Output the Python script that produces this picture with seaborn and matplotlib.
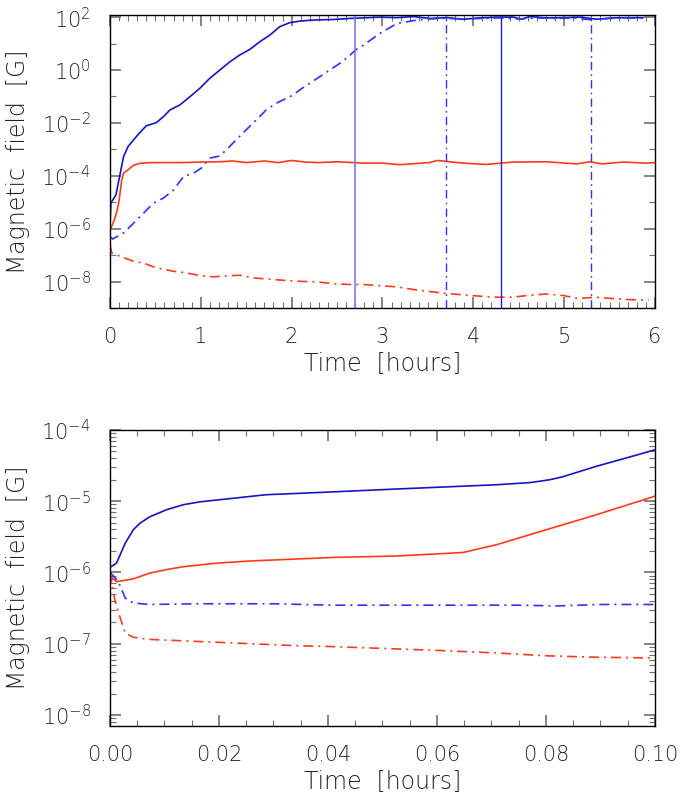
import numpy as np
import matplotlib
matplotlib.use('Agg')
import matplotlib.pyplot as plt
import matplotlib.ticker as mticker
import seaborn as sns

# ---- top panel: 0-6 hours (values stored as log10 of field in G) ----
top_t_blue = [0.0, 0.01, 0.066, 0.09, 0.15, 0.20, 0.26, 0.33, 0.40, 0.51, 0.59, 0.66, 0.77,
              0.88, 0.99, 1.10, 1.21, 1.32, 1.43, 1.54, 1.65, 1.76, 1.87, 1.98, 2.09, 2.24,
              2.46, 2.64, 2.79, 2.97, 3.16, 3.34, 3.52, 3.71, 3.89, 4.07, 4.26, 4.44, 4.53,
              4.62, 4.81, 4.99, 5.17, 5.36, 5.54, 5.72, 5.87]
top_blue = [-5.9, -5.03, -4.72, -4.3, -3.27, -2.89, -2.64, -2.36, -2.11, -1.99, -1.76, -1.51,
            -1.32, -1.01, -0.69, -0.31, 0.0, 0.31, 0.57, 0.78, 1.07, 1.32, 1.64, 1.79, 1.85,
            1.89, 1.91, 1.95, 1.97, 2.0, 1.98, 2.02, 1.95, 1.98, 1.92, 1.97, 2.0, 2.0, 1.92,
            2.02, 1.97, 1.98, 2.0, 1.92, 1.97, 1.98, 1.98]

top_t_blue_dd = [0.0, 0.03, 0.15, 0.26, 0.37, 0.48, 0.59, 0.70, 0.81, 0.92, 1.01, 1.10, 1.21,
                 1.28, 1.39, 1.50, 1.61, 1.72, 1.83, 1.94, 2.02, 2.09, 2.20, 2.31, 2.42, 2.53,
                 2.64, 2.70, 2.79, 2.97, 3.16, 3.38, 3.50, 3.68, 3.90, 4.10, 4.30, 4.50, 4.70,
                 4.90, 5.10, 5.30, 5.50, 5.70, 5.90]
top_blue_dd = [-6.3, -6.39, -6.16, -5.79, -5.41, -5.03, -4.84, -4.53, -4.03, -3.9, -3.7, -3.33,
               -3.25, -3.02, -2.64, -2.26, -1.89, -1.51, -1.26, -1.07, -0.94, -0.75, -0.50,
               -0.25, 0.0, 0.25, 0.55, 0.75, 0.94, 1.38, 1.76, 1.89, 1.93, 1.95, 1.93, 1.95,
               1.97, 1.93, 1.97, 1.95, 1.97, 1.90, 1.95, 1.97, 1.95]

top_t_red = [0.0, 0.05, 0.08, 0.10, 0.13, 0.15, 0.20, 0.26, 0.33, 0.45, 0.60, 0.80, 1.0, 1.2,
             1.35, 1.5, 1.7, 1.85, 2.0, 2.15, 2.3, 2.5, 2.79, 3.0, 3.19, 3.52, 3.6, 3.89, 4.14,
             4.44, 4.81, 5.14, 5.28, 5.42, 5.65, 5.9, 6.0]
top_red = [-6.05, -5.66, -5.3, -4.95, -4.15, -3.9, -3.77, -3.6, -3.53, -3.5, -3.5, -3.5, -3.48,
           -3.47, -3.44, -3.5, -3.44, -3.5, -3.42, -3.48, -3.5, -3.47, -3.52, -3.52, -3.58,
           -3.5, -3.42, -3.52, -3.57, -3.48, -3.47, -3.55, -3.47, -3.55, -3.48, -3.52, -3.5]

top_t_red_dd = [0.0, 0.02, 0.11, 0.26, 0.37, 0.51, 0.70, 0.84, 0.99, 1.14, 1.3, 1.43, 1.58,
                1.72, 1.91, 2.09, 2.28, 2.46, 2.64, 2.79, 3.16, 3.34, 3.70, 4.07, 4.25, 4.43,
                4.61, 4.80, 4.98, 5.16, 5.34, 5.53, 5.71, 5.93]
top_red_dd = [-6.6, -6.92, -7.04, -7.23, -7.30, -7.48, -7.61, -7.67, -7.77, -7.82, -7.78, -7.76,
              -7.86, -7.9, -7.95, -7.99, -8.01, -8.08, -8.11, -8.11, -8.2, -8.3, -8.45, -8.55,
              -8.59, -8.59, -8.52, -8.47, -8.52, -8.64, -8.59, -8.64, -8.68, -8.70]

vlines_solid = [2.7, 4.3]
vlines_dd = [3.7, 5.3]

# ---- bottom panel: 0-0.1 hours ----
bot_t_blue = [0.0, 0.0012, 0.0028, 0.0043, 0.0055, 0.0073, 0.0104, 0.0135, 0.0165, 0.0226,
              0.0287, 0.0349, 0.041, 0.0526, 0.0618, 0.071, 0.0771, 0.0807, 0.083, 0.0893,
              0.0954, 0.1]
bot_blue = [-5.93, -5.87, -5.59, -5.40, -5.31, -5.22, -5.12, -5.05, -5.01, -4.96, -4.91, -4.89,
            -4.87, -4.83, -4.80, -4.77, -4.74, -4.70, -4.66, -4.51, -4.38, -4.28]

bot_t_red = [0.0, 0.0012, 0.0043, 0.0073, 0.0104, 0.0135, 0.0196, 0.0257, 0.0318, 0.041,
             0.0526, 0.06, 0.0648, 0.071, 0.0801, 0.0893, 0.1]
bot_red = [-6.05, -6.13, -6.09, -6.01, -5.96, -5.92, -5.87, -5.84, -5.82, -5.79, -5.77, -5.74,
           -5.72, -5.61, -5.40, -5.19, -4.93]

bot_t_blue_dd = [0.0, 0.0015, 0.0028, 0.0043, 0.0073, 0.0165, 0.03, 0.041, 0.06, 0.075, 0.082,
                 0.09, 0.1]
bot_blue_dd = [-6.0, -6.12, -6.36, -6.43, -6.45, -6.44, -6.44, -6.46, -6.46, -6.46, -6.47,
               -6.45, -6.45]

bot_t_red_dd = [0.0, 0.0009, 0.0018, 0.0028, 0.0043, 0.0073, 0.0135, 0.0226, 0.0349, 0.0404,
                0.0587, 0.071, 0.0801, 0.0893, 0.1]
bot_red_dd = [-6.0, -6.39, -6.62, -6.85, -6.91, -6.94, -6.96, -6.99, -7.03, -7.04, -7.09,
              -7.13, -7.17, -7.19, -7.20]

BLUE = '#1414c8'
BLUE_DD = '#3030ff'
RED = '#ff3a1a'
DASHDOT = (0, (6, 3, 1.2, 3))
TXT = '#222222'


def pow10_label(v, pos):
    e = int(round(np.log10(v)))
    return r'$10^{%d}$' % e


sns.set_style("ticks")
plt.rcParams['font.family'] = ['DejaVu Sans']
plt.rcParams['font.weight'] = 'light'
plt.rcParams['axes.labelweight'] = 'light'
plt.rcParams['font.size'] = 15
plt.rcParams['mathtext.fontset'] = 'custom'
plt.rcParams['mathtext.rm'] = 'DejaVu Sans:light'
plt.rcParams['mathtext.default'] = 'rm'

fig = plt.figure(figsize=(6.83, 7.96), dpi=100)
ax1 = fig.add_axes([0.161, 0.613, 0.798, 0.368])
ax2 = fig.add_axes([0.161, 0.088, 0.798, 0.372])


def draw(ax, t, logv, color, ls):
    sns.lineplot(x=np.array(t), y=np.power(10.0, np.array(logv)), ax=ax, color=color,
                 linestyle=ls, linewidth=1.2, estimator=None, sort=False)


draw(ax1, top_t_blue, top_blue, BLUE, '-')
draw(ax1, top_t_blue_dd, top_blue_dd, BLUE_DD, DASHDOT)
draw(ax1, top_t_red, top_red, RED, '-')
draw(ax1, top_t_red_dd, top_red_dd, RED, DASHDOT)
ax1.axvline(vlines_solid[0], color='#7a7aff', lw=1.2)
ax1.axvline(vlines_solid[1], color='#2020ff', lw=1.0)
for v in vlines_dd:
    ax1.axvline(v, color=BLUE_DD, lw=1.0, linestyle=DASHDOT)

draw(ax2, bot_t_blue, bot_blue, BLUE, '-')
draw(ax2, bot_t_red, bot_red, RED, '-')
draw(ax2, bot_t_blue_dd, bot_blue_dd, BLUE_DD, DASHDOT)
draw(ax2, bot_t_red_dd, bot_red_dd, RED, DASHDOT)

for ax in (ax1, ax2):
    ax.set_yscale('log')
    ax.set_xlabel('Time  [hours]', fontsize=17, fontweight='light', color=TXT, labelpad=3)
    ax.set_ylabel('Magnetic  field  [G]', fontsize=17, fontweight='light', color=TXT,
                  labelpad=8)
    ax.tick_params(which='both', direction='in', top=True, right=True, color='#707070',
                   labelsize=15, labelcolor=TXT)
    ax.tick_params(axis='x', which='both', pad=14)
    ax.tick_params(axis='y', which='both', pad=14)
    ax.tick_params(which='major', length=8, width=1.2)
    ax.tick_params(which='minor', length=4, width=0.8)
    for s in ax.spines.values():
        s.set_linewidth(1.0)
        s.set_color('black')
    ax.yaxis.set_major_formatter(mticker.FuncFormatter(pow10_label))
    ax.yaxis.set_minor_formatter(mticker.NullFormatter())

ax1.set_xlim(0, 6)
ax1.set_ylim(1e-9, 10 ** 2.075)
ax1.xaxis.set_major_locator(mticker.MultipleLocator(1))
ax1.xaxis.set_minor_locator(mticker.MultipleLocator(0.1))
ax1.xaxis.set_major_formatter(mticker.FormatStrFormatter('%d'))
ax1.yaxis.set_major_locator(mticker.FixedLocator([10.0 ** e for e in range(-8, 3, 2)]))
ax1.yaxis.set_minor_locator(mticker.FixedLocator([10.0 ** e for e in range(-9, 2, 2)]))

ax2.set_xlim(0, 0.1)
ax2.set_ylim(10 ** -8.154, 1e-4)
ax2.xaxis.set_major_locator(mticker.MultipleLocator(0.02))
ax2.xaxis.set_minor_locator(mticker.MultipleLocator(0.005))
ax2.xaxis.set_major_formatter(mticker.FormatStrFormatter('%.2f'))
ax2.yaxis.set_major_locator(mticker.LogLocator(base=10, numticks=10))
ax2.yaxis.set_minor_locator(mticker.LogLocator(base=10, subs=np.arange(2, 10), numticks=20))

fig.savefig('out.png', dpi=100)
